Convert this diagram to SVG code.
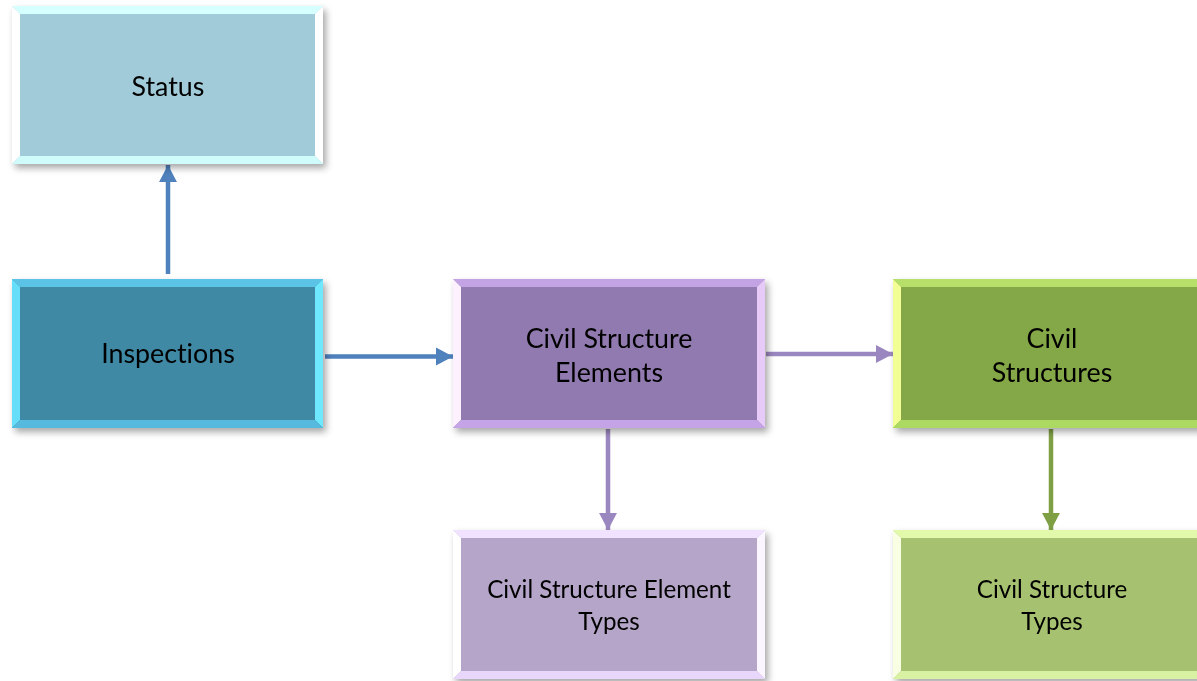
<svg xmlns="http://www.w3.org/2000/svg" width="1197" height="681" viewBox="0 0 1197 681">
  <style>
    .lbl { font-family: Lato, "Open Sans", "Liberation Sans", sans-serif; font-size: 26.8px; fill: #000; text-anchor: middle; font-variant-ligatures: none; }
    .sm { font-size: 24.2px; }
    .blue { stroke: #4f81bd; fill: none; stroke-width: 4.5; }
    .purple { stroke: #9b87bf; fill: none; stroke-width: 4.5; }
    .green { stroke: #7f9f45; fill: none; stroke-width: 4.5; }
  </style>
  <defs>
    <filter id="shadow" x="-10%" y="-10%" width="130%" height="130%">
      <feDropShadow dx="3" dy="4" stdDeviation="3.5" flood-color="#000" flood-opacity="0.35"/>
    </filter>
    <marker id="headBlue" markerWidth="4.2" markerHeight="4.4" refX="3.8" refY="2.2" orient="auto" markerUnits="strokeWidth" viewBox="0 0 4.2 4.4">
      <path d="M0,0.2 L3.8,2.2 L0,4.2 Z" fill="#4f81bd"/>
    </marker>
    <marker id="headPurple" markerWidth="4.2" markerHeight="4.4" refX="3.8" refY="2.2" orient="auto" markerUnits="strokeWidth" viewBox="0 0 4.2 4.4">
      <path d="M0,0.2 L3.8,2.2 L0,4.2 Z" fill="#9b87bf"/>
    </marker>
    <marker id="headGreen" markerWidth="4.2" markerHeight="4.4" refX="3.8" refY="2.2" orient="auto" markerUnits="strokeWidth" viewBox="0 0 4.2 4.4">
      <path d="M0,0.2 L3.8,2.2 L0,4.2 Z" fill="#7f9f45"/>
    </marker>
  </defs>

  <rect width="1197" height="681" fill="#ffffff"/>

  <!-- connectors -->
  <g id="connectors">
    <line class="blue" x1="168" y1="274" x2="168" y2="165" marker-end="url(#headBlue)"/>
    <line class="blue" x1="325" y1="356.5" x2="453" y2="356.5" marker-end="url(#headBlue)"/>
    <line class="purple" x1="766" y1="354" x2="893" y2="354" marker-end="url(#headPurple)"/>
    <line class="purple" x1="608" y1="429" x2="608" y2="530" marker-end="url(#headPurple)"/>
    <line class="green" x1="1051" y1="429" x2="1051" y2="530" marker-end="url(#headGreen)"/>
  </g>

  <!-- Status -->
  <g id="node-status" filter="url(#shadow)">
    <rect x="12" y="6" width="311" height="158" fill="#a2cbd9"/>
    <polygon points="12,6 323,6 315,14 20,14" fill="#d6ffff"/>
    <polygon points="12,6 20,14 20,156 12,164" fill="#ffffff"/>
    <polygon points="323,6 323,164 315,156 315,14" fill="#ffffff"/>
    <polygon points="12,164 20,156 315,156 323,164" fill="#d0fbfb"/>
    <text class="lbl" x="168" y="96">Status</text>
  </g>

  <!-- Inspections -->
  <g id="node-inspections" filter="url(#shadow)">
    <rect x="12" y="279" width="311" height="149" fill="#3f89a5"/>
    <polygon points="12,279 323,279 315,287 20,287" fill="#5ac3e6"/>
    <polygon points="12,279 20,287 20,420 12,428" fill="#66def9"/>
    <polygon points="323,279 323,428 315,420 315,287" fill="#6ee8ff"/>
    <polygon points="12,428 20,420 315,420 323,428" fill="#56b9de"/>
    <text class="lbl" x="168" y="363">Inspections</text>
  </g>

  <!-- Civil Structure Elements -->
  <g id="node-cse" filter="url(#shadow)">
    <rect x="453" y="279" width="312" height="149" fill="#917aaf"/>
    <polygon points="453,279 765,279 757,287 461,287" fill="#c3a3e3"/>
    <polygon points="453,279 461,287 461,420 453,428" fill="#fdf0ff"/>
    <polygon points="765,279 765,428 757,420 757,287" fill="#e8caf9"/>
    <polygon points="453,428 461,420 757,420 765,428" fill="#c4a3e6"/>
    <text class="lbl" x="609" y="348">Civil Structure</text>
    <text class="lbl" x="609" y="382">Elements</text>
  </g>

  <!-- Civil Structures -->
  <g id="node-cs" filter="url(#shadow)">
    <rect x="893" y="279" width="320" height="149" fill="#84a746"/>
    <polygon points="893,279 1213,279 1205,287 901,287" fill="#b6e06b"/>
    <polygon points="893,279 901,287 901,420 893,428" fill="#f2ff94"/>
    <polygon points="893,428 901,420 1205,420 1213,428" fill="#abd962"/>
    <text class="lbl" x="1052" y="348">Civil</text>
    <text class="lbl" x="1052" y="382">Structures</text>
  </g>

  <!-- Civil Structure Element Types -->
  <g id="node-cset" filter="url(#shadow)">
    <rect x="453" y="530" width="312" height="149" fill="#b5a5c8"/>
    <polygon points="453,530 765,530 757,538 461,538" fill="#f1e3ff"/>
    <polygon points="453,530 461,538 461,671 453,679" fill="#ffffff"/>
    <polygon points="765,530 765,679 757,671 757,538" fill="#fbf5ff"/>
    <polygon points="453,679 461,671 757,671 765,679" fill="#e9d7fb"/>
    <text class="lbl sm" x="609" y="598">Civil Structure Element</text>
    <text class="lbl sm" x="609" y="630">Types</text>
  </g>

  <!-- Civil Structure Types -->
  <g id="node-cst" filter="url(#shadow)">
    <rect x="893" y="530" width="320" height="149" fill="#a6c270"/>
    <polygon points="893,530 1213,530 1205,538 901,538" fill="#e2f8aa"/>
    <polygon points="893,530 901,538 901,671 893,679" fill="#f8ffe2"/>
    <polygon points="893,679 901,671 1205,671 1213,679" fill="#d9f1a2"/>
    <text class="lbl sm" x="1052" y="598">Civil Structure</text>
    <text class="lbl sm" x="1052" y="630">Types</text>
  </g>
</svg>
